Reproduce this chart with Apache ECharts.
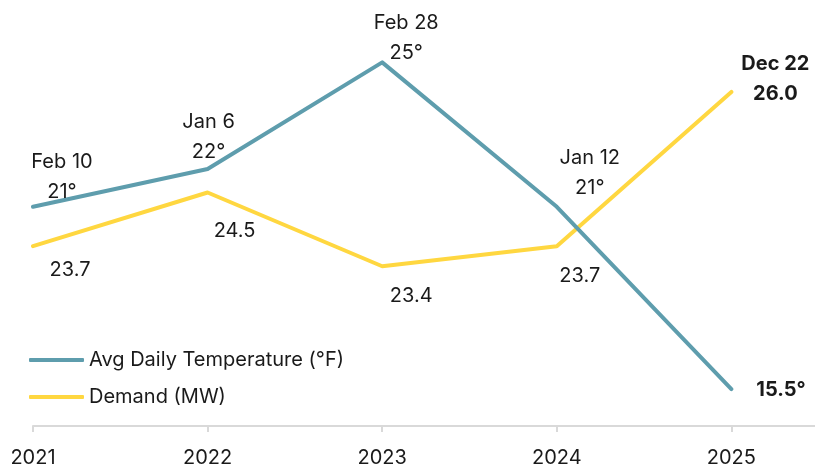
<!DOCTYPE html>
<html>
<head>
<meta charset="utf-8">
<script src="https://cdn.jsdelivr.net/npm/echarts@6/dist/echarts.min.js"></script>
<style>
html,body{margin:0;padding:0;background:#fff;}
#c{width:815px;height:468px;}
</style>
</head>
<body>
<div id="c"></div>
<script>
const years = [2021, 2022, 2023, 2024, 2025];
const tempValues = [20.8, 21.9, 25.0, 20.8, 15.5];
const tempLabels = ['Feb 10\n21°', 'Jan 6\n22°', 'Feb 28\n25°', 'Jan 12\n21°', '15.5°'];
const demandValues = [23.7, 24.5, 23.4, 23.7, 26.0];
const demandLabels = ['23.7', '24.5', '23.4', '23.7', 'Dec 22\n26.0'];
const seriesNames = ['Avg Daily Temperature (°F)', 'Demand (MW)'];

const FONT = 'Inter';
const TEAL = '#5E9DAD';
const GOLD = '#FFD740';

const tempLabelStyles = [
  {position: 'top', offset: [29, 5]},
  {position: 'top', offset: [1, 3]},
  {position: 'top', offset: [24, 11]},
  {position: 'top', offset: [33, 1]},
  {position: 'right', distance: 25, offset: [0, 1], fontWeight: 'bold'}
];
const demandLabelStyles = [
  {position: 'bottom', offset: [37, 4]},
  {position: 'bottom', offset: [27, 18]},
  {position: 'bottom', offset: [29, 10]},
  {position: 'bottom', offset: [23, 10]},
  {position: 'right', distance: 44, align: 'center', offset: [0, -13], fontWeight: 'bold'}
];

function buildData(vals, labels, styles) {
  return vals.map((v, i) => ({
    value: [years[i], v],
    label: Object.assign({show: true, formatter: labels[i]}, styles[i])
  }));
}

const chart = echarts.init(document.getElementById('c'), null, {renderer: 'canvas'});
chart.setOption({
  animation: false,
  backgroundColor: '#fff',
  textStyle: {fontFamily: FONT},
  grid: {left: 33, right: 0, top: 0, bottom: 41, containLabel: false},
  legend: {
    orient: 'vertical',
    left: 29,
    top: 350,
    padding: 0,
    itemGap: 17,
    itemWidth: 55,
    itemHeight: 4,
    icon: 'roundRect',
    textStyle: {fontFamily: FONT, fontSize: 20, color: '#1a1a1a'},
    data: seriesNames
  },
  xAxis: {
    type: 'value',
    min: 2021,
    max: 2025.479,
    splitLine: {show: false},
    axisLine: {show: true, lineStyle: {color: '#d9d9d9', width: 2}},
    axisTick: {show: true, length: 6, customValues: years, lineStyle: {color: '#d9d9d9', width: 2}},
    axisLabel: {customValues: years, fontFamily: FONT, fontSize: 20, color: '#1a1a1a', margin: 22,
      formatter: v => String(v)}
  },
  yAxis: [
    {type: 'value', min: 14.427, max: 26.813, show: false, splitLine: {show: false}},
    {type: 'value', min: 21.018, max: 27.371, show: false, splitLine: {show: false}}
  ],
  series: [
    {
      name: seriesNames[0],
      type: 'line',
      yAxisIndex: 0,
      symbol: 'circle',
      symbolSize: 0,
      showSymbol: true,
      color: TEAL,
      lineStyle: {width: 4, color: TEAL, cap: 'round', join: 'round'},
      itemStyle: {color: TEAL},
      label: {show: true, fontFamily: FONT, fontSize: 20, lineHeight: 30, color: '#1a1a1a'},
      data: buildData(tempValues, tempLabels, tempLabelStyles),
      z: 3
    },
    {
      name: seriesNames[1],
      type: 'line',
      yAxisIndex: 1,
      symbol: 'circle',
      symbolSize: 0,
      showSymbol: true,
      color: GOLD,
      lineStyle: {width: 4, color: GOLD, cap: 'round', join: 'round'},
      itemStyle: {color: GOLD},
      label: {show: true, fontFamily: FONT, fontSize: 20, lineHeight: 30, color: '#1a1a1a'},
      data: buildData(demandValues, demandLabels, demandLabelStyles),
      z: 2
    }
  ]
});
</script>
</body>
</html>
